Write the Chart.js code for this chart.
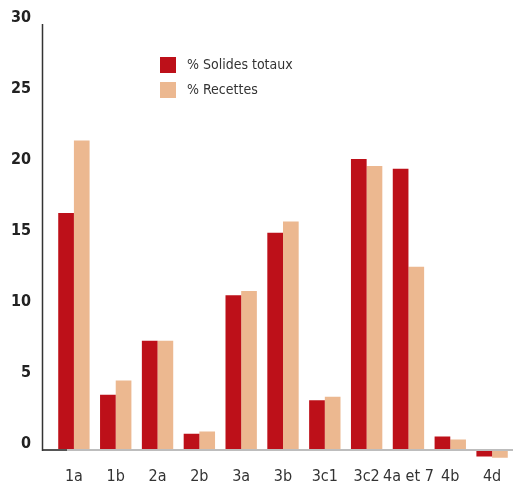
<!DOCTYPE html>
<html>
<head>
<meta charset="utf-8">
<script src="https://cdn.jsdelivr.net/npm/chart.js@4/dist/chart.umd.min.js"></script>
<style>
  html, body { margin: 0; padding: 0; background: #fff; overflow: hidden; }
  #wrap { position: relative; width: 513px; height: 485px; }
</style>
</head>
<body>
<div id="wrap"><canvas id="chart" width="513" height="485"></canvas></div>
<script>
const categories = ['1a', '1b', '2a', '2b', '3a', '3b', '3c1', '3c2', '4a et 7', '4b', '4d'];
const solidesTotaux = [16.7, 3.9, 7.7, 1.15, 10.9, 15.3, 3.5, 20.5, 19.8, 0.95, -0.45];
const recettes = [21.8, 4.9, 7.7, 1.3, 11.2, 16.1, 3.75, 20.0, 12.9, 0.75, -0.55];
const yTicks = [0, 5, 10, 15, 20, 25, 30];

const RED = '#bd1019';
const PEACH = '#ecb890';
const FONT = '"Liberation Sans Narrow", "DejaVu Sans Condensed", "Liberation Sans", sans-serif';

// axis lines and legend drawn by hand, like the original layout
const extras = {
  id: 'extras',
  afterDraw(chart) {
    const ctx = chart.ctx;
    const y = chart.scales.y;
    const zero = y.getPixelForValue(0);
    const top = y.getPixelForValue(30);
    ctx.save();
    ctx.strokeStyle = '#bdbdbd';
    ctx.lineWidth = 2;
    ctx.beginPath();
    ctx.moveTo(42, zero);
    ctx.lineTo(513, zero);
    ctx.stroke();
    ctx.strokeStyle = '#333';
    ctx.lineWidth = 1.5;
    ctx.beginPath();
    ctx.moveTo(42.5, top);
    ctx.lineTo(42.5, zero + 1);
    ctx.moveTo(42, zero);
    ctx.lineTo(67, zero);
    ctx.stroke();

    ctx.font = '14px ' + FONT;
    ctx.textBaseline = 'middle';
    chart.data.datasets.forEach((ds, i) => {
      const ly = 57 + i * 25;
      ctx.fillStyle = ds.backgroundColor;
      ctx.fillRect(160, ly, 16, 16);
      ctx.fillStyle = '#333';
      ctx.fillText(ds.label, 187, ly + 8);
    });
    ctx.restore();
  }
};

new Chart(document.getElementById('chart'), {
  type: 'bar',
  data: {
    labels: categories,
    datasets: [
      { label: '% Solides totaux', data: solidesTotaux, backgroundColor: RED },
      { label: '% Recettes', data: recettes, backgroundColor: PEACH }
    ]
  },
  options: {
    responsive: false,
    animation: false,
    layout: { padding: { top: 24, left: 0, right: 0, bottom: 0 } },
    datasets: { bar: { categoryPercentage: 0.75, barPercentage: 1.0 } },
    plugins: {
      legend: { display: false },
      tooltip: { enabled: false }
    },
    scales: {
      x: {
        grid: { display: false, drawTicks: false },
        border: { display: false },
        ticks: { color: '#333', font: { family: FONT, size: 16 }, padding: 6, maxRotation: 0, autoSkip: false },
        afterFit(scale) { scale.height = 23; }
      },
      y: {
        min: -0.8,
        max: 30,
        grid: { display: true, drawOnChartArea: false, drawTicks: true, tickLength: 8, color: 'rgba(0,0,0,0)' },
        border: { display: false },
        afterBuildTicks(scale) {
          scale.ticks = yTicks.map(v => ({ value: v }));
        },
        ticks: {
          color: '#222',
          font: { family: FONT, size: 16, weight: 'bold' },
          padding: 14,
          labelOffset: -6
        },
        afterFit(scale) { scale.width = 53; }
      }
    }
  },
  plugins: [extras]
});
</script>
</body>
</html>
